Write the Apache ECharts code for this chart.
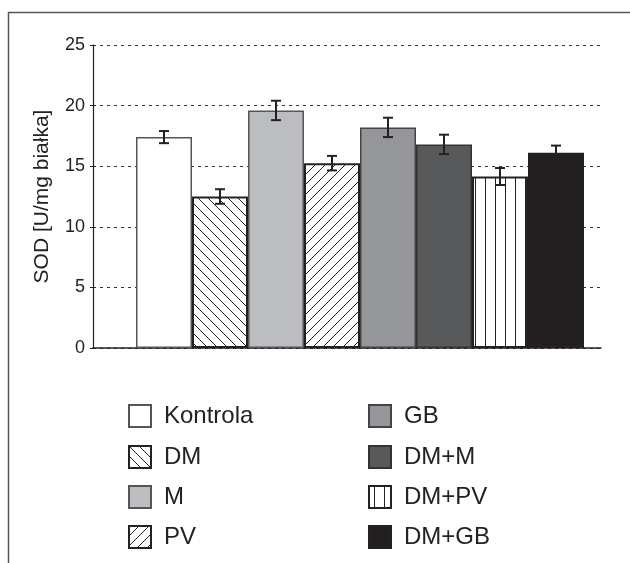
<!DOCTYPE html>
<html>
<head>
<meta charset="utf-8">
<script src="https://cdn.jsdelivr.net/npm/echarts@6/dist/echarts.min.js"></script>
<style>
html,body{margin:0;padding:0;background:#fff;}
#chart{width:630px;height:563px;}
</style>
</head>
<body>
<div id="chart"></div>
<script>
// ---- data ----
const categories = ['Kontrola', 'DM', 'M', 'PV', 'GB', 'DM+M', 'DM+PV', 'DM+GB'];
const values = [17.4, 12.5, 19.6, 15.25, 18.2, 16.8, 14.15, 16.1];
const errors = [0.5, 0.6, 0.8, 0.6, 0.8, 0.8, 0.7, 0.6];
const yMin = 0, yMax = 25, yStep = 5;
const yAxisTitle = 'SOD [U/mg białka]';
const legendLeft = ['Kontrola', 'DM', 'M', 'PV'];
const legendRight = ['GB', 'DM+M', 'DM+PV', 'DM+GB'];

// ---- patterns ----
function makePattern(kind) {
  const s = 10;
  const c = document.createElement('canvas');
  c.width = s; c.height = s;
  const ctx = c.getContext('2d');
  ctx.fillStyle = '#ffffff';
  ctx.fillRect(0, 0, s, s);
  ctx.strokeStyle = '#222';
  ctx.lineWidth = 1;
  ctx.beginPath();
  if (kind === 'back') {
    for (const x0 of [-s, 0, s]) { ctx.moveTo(x0, 0); ctx.lineTo(x0 + s, s); }
  } else if (kind === 'fwd') {
    for (const x0 of [-s, 0, s]) { ctx.moveTo(x0, s); ctx.lineTo(x0 + s, 0); }
  } else {
    ctx.moveTo(5.5, 0); ctx.lineTo(5.5, s);
  }
  ctx.stroke();
  return { image: c, repeat: 'repeat' };
}

const styles = [
  { color: '#ffffff', borderColor: '#555', borderWidth: 1.5 },
  { color: makePattern('back'), borderColor: '#222', borderWidth: 2 },
  { color: '#bcbdc1', borderColor: '#555', borderWidth: 1.5 },
  { color: makePattern('fwd'), borderColor: '#222', borderWidth: 2 },
  { color: '#959699', borderColor: '#444', borderWidth: 1.5 },
  { color: '#58595b', borderColor: '#333', borderWidth: 1.5 },
  { color: makePattern('vert'), borderColor: '#222', borderWidth: 2 },
  { color: '#231f20', borderColor: '#222', borderWidth: 1.5 }
];

const barSeries = categories.map((name, i) => ({
  name: name,
  type: 'bar',
  xAxisIndex: 1,
  yAxisIndex: 1,
  stack: 'all',
  barCategoryGap: 0,
  barWidth: '100%',
  itemStyle: styles[i],
  emphasis: { disabled: true },
  data: categories.map((_, j) => (j === i ? values[i] : null))
}));

const errSeries = {
  type: 'custom',
  xAxisIndex: 1,
  yAxisIndex: 1,
  z: 10,
  silent: true,
  data: values.map((v, i) => [i, v, errors[i]]),
  renderItem: function (params, api) {
    const x = api.value(0), v = api.value(1), e = api.value(2);
    const hi = api.coord([x, v + e]);
    const lo = api.coord([x, v - e]);
    const w = 5;
    const st = { stroke: '#222', lineWidth: 2 };
    return {
      type: 'group',
      children: [
        { type: 'line', shape: { x1: hi[0], y1: hi[1], x2: lo[0], y2: lo[1] }, style: st },
        { type: 'line', shape: { x1: hi[0] - w, y1: hi[1], x2: hi[0] + w, y2: hi[1] }, style: st },
        { type: 'line', shape: { x1: lo[0] - w, y1: lo[1], x2: lo[0] + w, y2: lo[1] }, style: st }
      ]
    };
  }
};

const rowCenters = [415, 456, 496, 536];
function makeLegend(name, left, row) {
  return {
    data: [name],
    left: left,
    top: rowCenters[row] - 11 - 5,
    padding: 5,
    icon: 'rect',
    itemWidth: 22,
    itemHeight: 22,
    selectedMode: false,
    textStyle: { fontFamily: 'Liberation Sans, Arial, sans-serif', fontSize: 24, color: '#222', padding: [0, 0, 0, 8] }
  };
}
const legends = legendLeft.map((n, r) => makeLegend(n, 123, r))
  .concat(legendRight.map((n, r) => makeLegend(n, 363, r)));

const chart = echarts.init(document.getElementById('chart'), null, { renderer: 'canvas' });
chart.setOption({
  animation: false,
  backgroundColor: '#ffffff',
  graphic: [{
    type: 'rect',
    shape: { x: 8.5, y: 12.5, width: 800, height: 800 },
    style: { fill: 'none', stroke: '#555', lineWidth: 1.5 },
    z: -10
  }],
  grid: [
    { left: 93, width: 508, top: 45, bottom: 215 },
    { left: 136, width: 448, top: 45, bottom: 215 }
  ],
  xAxis: [
    { gridIndex: 0, type: 'value', min: 0, max: 1, show: true,
      axisLine: { show: true, lineStyle: { color: '#222', width: 1.5 } },
      axisTick: { show: false }, axisLabel: { show: false }, splitLine: { show: false } },
    { gridIndex: 1, type: 'category', data: categories, show: false, boundaryGap: true }
  ],
  yAxis: [
    { gridIndex: 0, type: 'value', min: yMin, max: yMax, interval: yStep,
      name: yAxisTitle, nameLocation: 'middle', nameRotate: 90, nameGap: 40,
      nameTextStyle: { fontFamily: 'Liberation Sans, Arial, sans-serif', fontSize: 21, color: '#222' },
      axisLine: { show: true, onZero: false, lineStyle: { color: '#222', width: 1.2 } },
      axisTick: { show: true, length: 3, lineStyle: { color: '#222' } },
      axisLabel: { fontFamily: 'Liberation Sans, Arial, sans-serif', fontSize: 18, color: '#222', margin: 8 },
      splitLine: { show: true, lineStyle: { color: '#333', type: [3, 4], width: 1.2 } } },
    { gridIndex: 1, type: 'value', min: yMin, max: yMax, interval: yStep, show: false, splitLine: { show: false } }
  ],
  legend: legends,
  series: barSeries.concat([errSeries])
});
</script>
</body>
</html>
